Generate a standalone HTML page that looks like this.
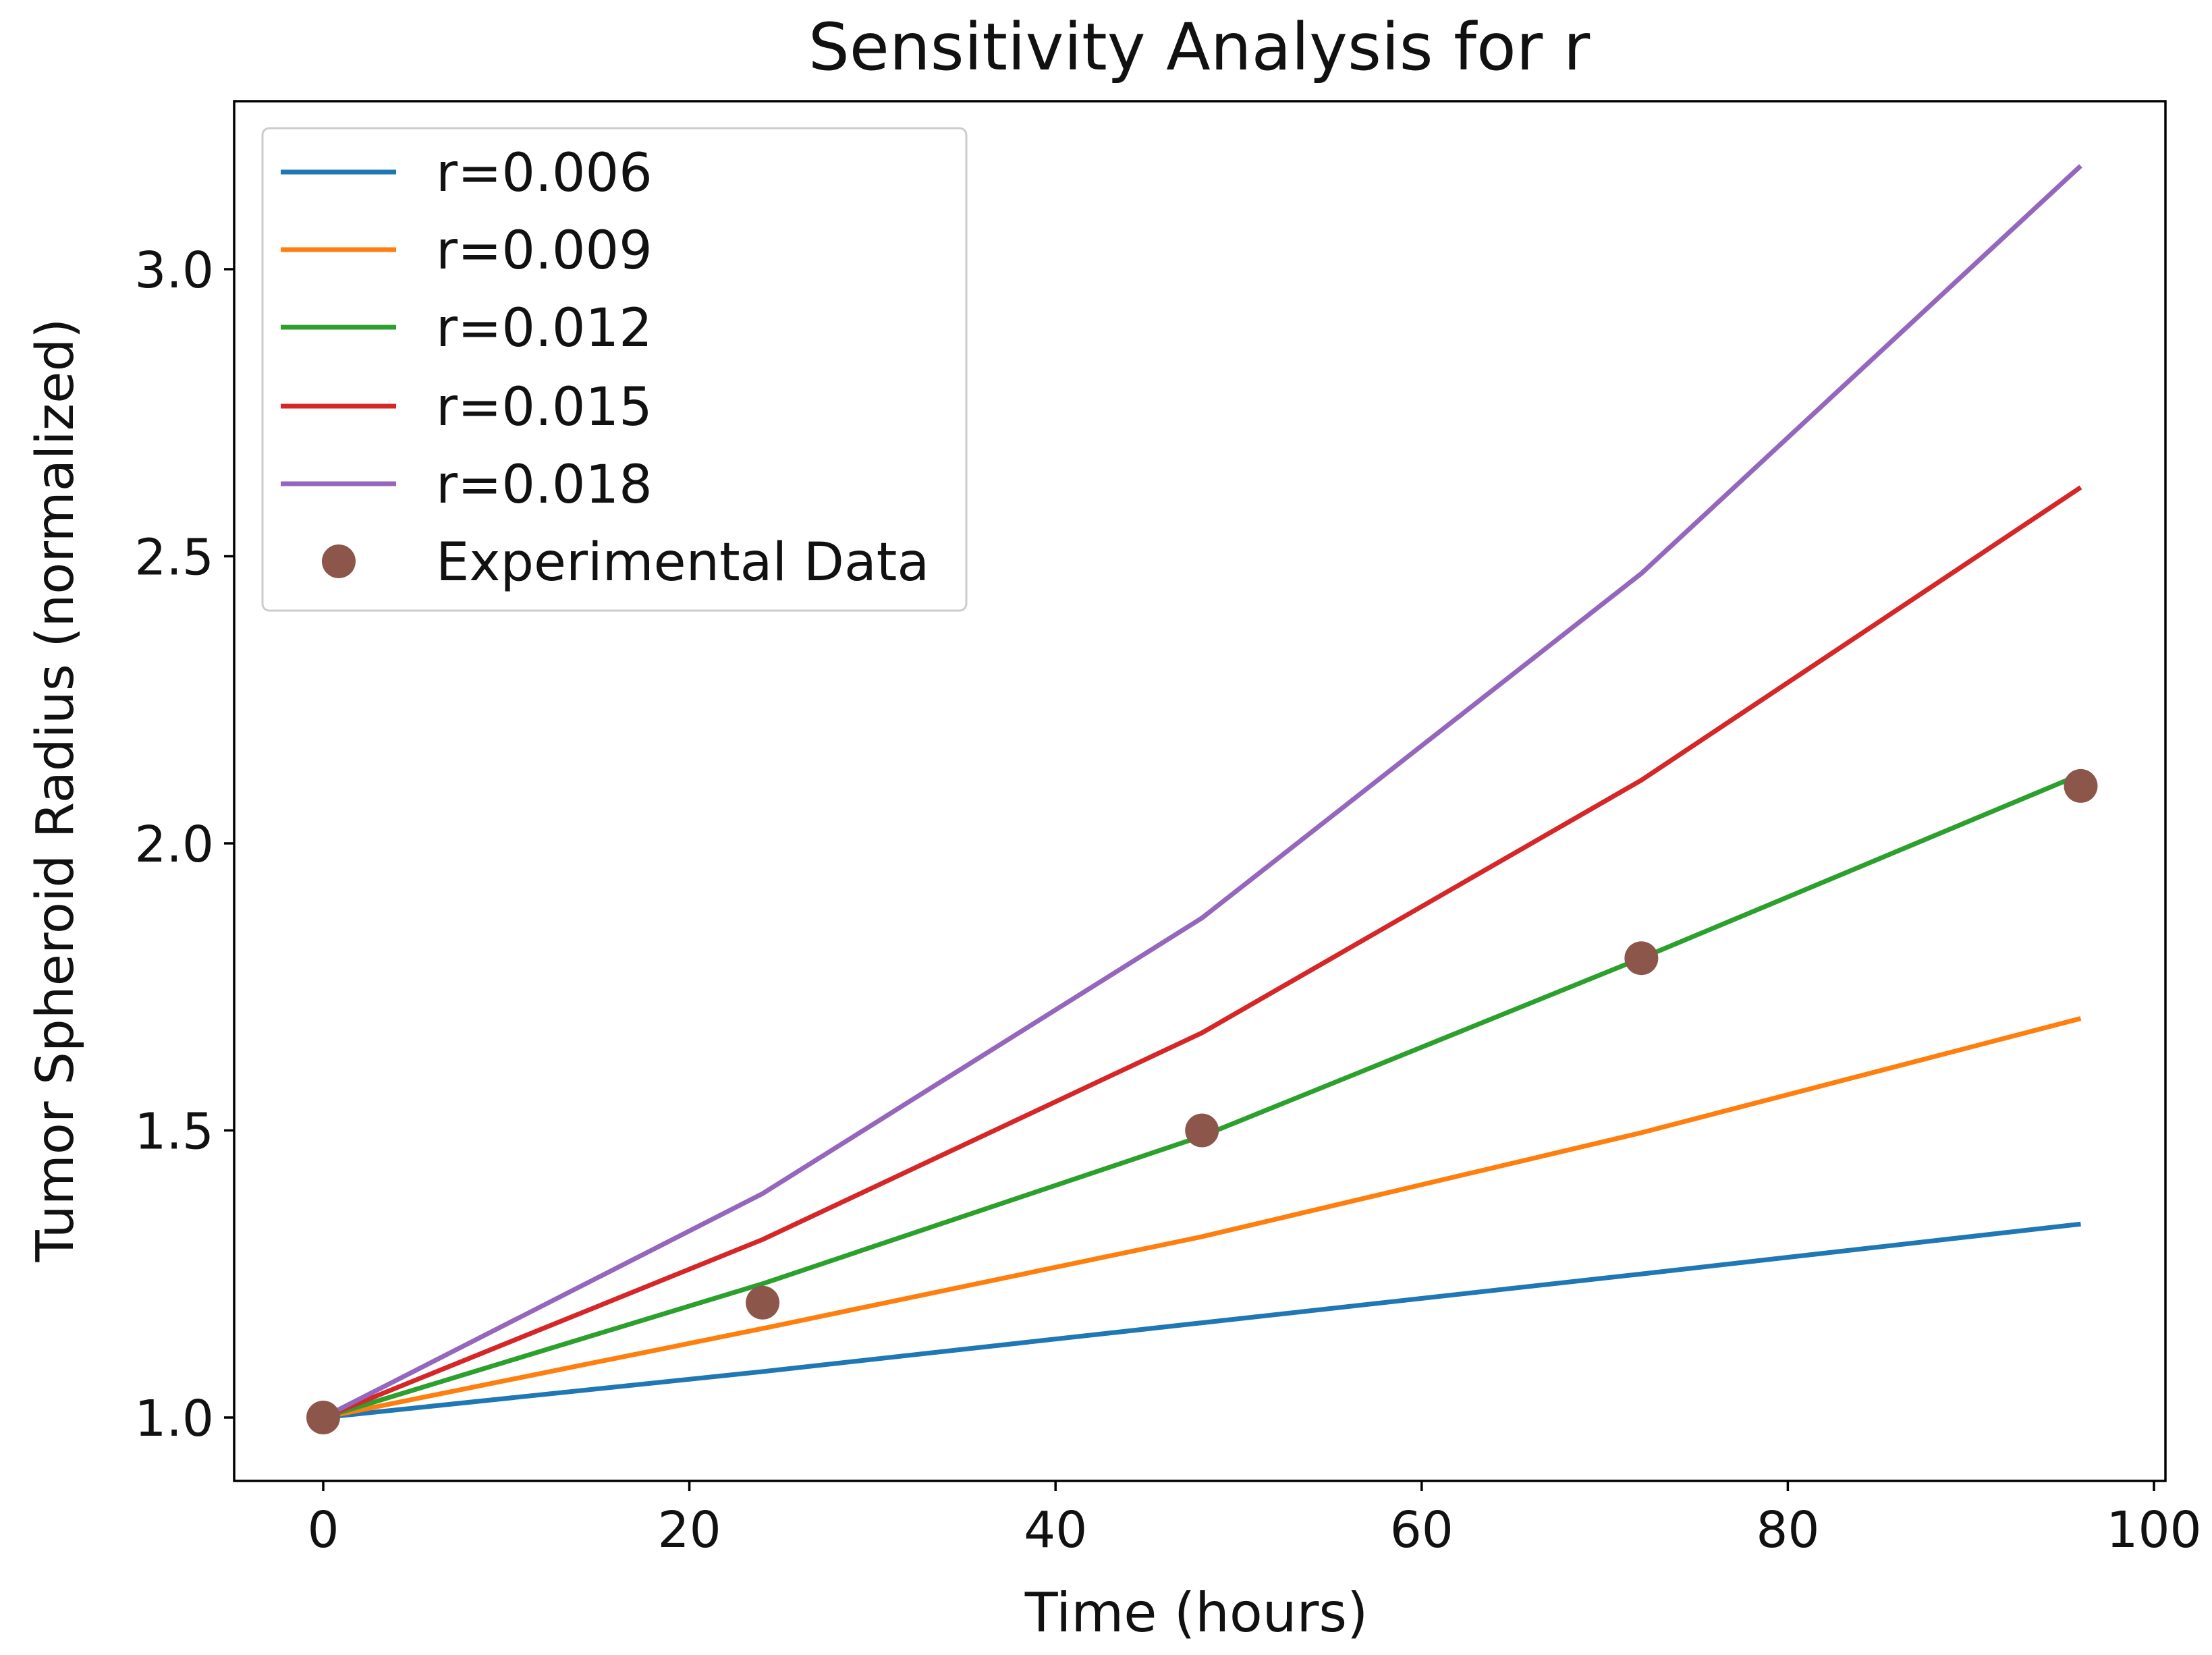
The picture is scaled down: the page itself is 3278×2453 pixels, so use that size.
<!DOCTYPE html>
<html><head><meta charset="utf-8"><style>
html,body{margin:0;padding:0;background:#fff;}
svg{display:block;font-family:"DejaVu Sans","Liberation Sans",sans-serif;}
</style></head><body>
<svg id="chart" width="3278" height="2453" viewBox="0 0 3278 2453" xmlns="http://www.w3.org/2000/svg">
<rect width="3278" height="2453" fill="#fff"/>
<text x="1777" y="103" font-size="96" text-anchor="middle" fill="#111">Sensitivity Analysis for r</text>
<g id="plot"></g>
<text x="1773" y="2418" font-size="80" text-anchor="middle" fill="#111">Time (hours)</text>
<text transform="translate(108,1171) rotate(-90)" font-size="77" text-anchor="middle" fill="#111">Tumor Spheroid Radius (normalized)</text>
</svg>
<script>
const times = [0, 24, 48, 72, 96];
const seriesNames = ["r=0.006","r=0.009","r=0.012","r=0.015","r=0.018"];
const s006 = [1.0, 1.08, 1.165, 1.25, 1.337];
const s009 = [1.0, 1.155, 1.315, 1.496, 1.695];
const s012 = [1.0, 1.233, 1.49, 1.80, 2.12];
const s015 = [1.0, 1.31, 1.67, 2.11, 2.62];
const s018 = [1.0, 1.39, 1.87, 2.47, 3.18];
const expValues = [1.0, 1.2, 1.5, 1.8, 2.1];
const xTicks = [0, 20, 40, 60, 80, 100];
const yTicks = [1.0, 1.5, 2.0, 2.5, 3.0];
const colors = ["#1f77b4","#ff7f0e","#2ca02c","#d62728","#9467bd"];
const NS = "http://www.w3.org/2000/svg";
const L=347,R=3209,T=150,B=2195;
const X = v => 479 + (v-0)*(3192-479)/100;
const Y = v => 2101 - (v-1)*(2101-399)/2;
const g = document.getElementById('plot');
function mk(tag, attrs, parent){const e=document.createElementNS(NS,tag);for(const k in attrs)e.setAttribute(k,attrs[k]);(parent||g).appendChild(e);return e;}
let fr = mk('rect',{x:L,y:T,width:R-L,height:B-T,fill:'none',stroke:'#000','stroke-width':3.5});


xTicks.forEach(t=>{
  const tk=mk('line',{x1:X(t),x2:X(t),y1:B,y2:B+15,stroke:'#000','stroke-width':3.5});
  
  
  const tx=mk('text',{x:X(t),y:B+98,'font-size':74,'text-anchor':'middle',fill:'#111'});
  tx.textContent=t;
  
  
});
yTicks.forEach(t=>{
  const tk=mk('line',{x1:L-15,x2:L,y1:Y(t),y2:Y(t),stroke:'#000','stroke-width':3.5});
  
  
  const tx=mk('text',{x:L-30,y:Y(t)+27,'font-size':74,'text-anchor':'end',fill:'#111'});
  tx.textContent=t.toFixed(1);
  
  
});
const allSeries=[s006,s009,s012,s015,s018];
allSeries.forEach((s,i)=>{
  const p=mk('polyline',{points:s.map((v,j)=>X(times[j])+','+Y(v)).join(' '),fill:'none',stroke:colors[i],'stroke-width':7,'stroke-linejoin':'round'});
  
  
});
expValues.forEach((v,j)=>{
  const c=mk('circle',{cx:X(times[j]),cy:Y(v),r:25,fill:'#8c564b'});
  
  
});
const lg=mk('g',{});


mk('rect',{x:389,y:190,width:1043,height:715,rx:10,fill:'#fff','fill-opacity':0.85,stroke:'#ccc','stroke-width':3},lg);
const ly=[255,370,485,602,717,832];
seriesNames.forEach((n,i)=>{
  const e=mk('g',{},lg);
  
  
  mk('line',{x1:416,x2:587,y1:ly[i],y2:ly[i],stroke:colors[i],'stroke-width':7},e);
  const t=mk('text',{x:646,y:ly[i]+28,'font-size':78,fill:'#111'},e);t.textContent=n;
});
const e=mk('g',{},lg);


mk('circle',{cx:502,cy:ly[5],r:25,fill:'#8c564b'},e);
const t=mk('text',{x:646,y:ly[5]+28,'font-size':78,fill:'#111'},e);t.textContent='Experimental Data';
</script>
</body></html>
